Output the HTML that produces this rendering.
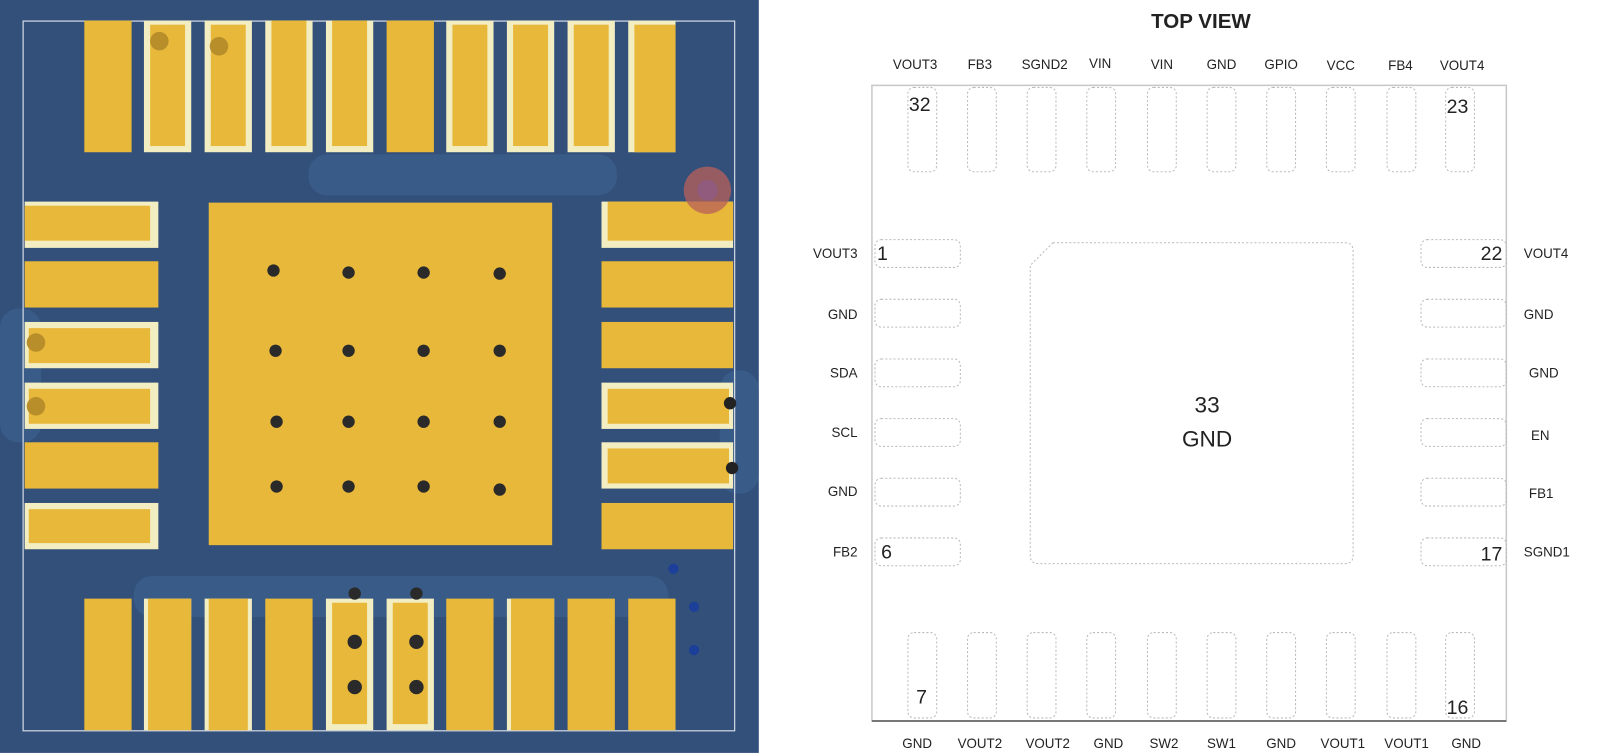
<!DOCTYPE html>
<html><head><meta charset="utf-8"><style>
html,body{margin:0;padding:0;background:#fff;}
svg{display:block;}
text{font-family:"Liberation Sans",Arial,sans-serif;fill:#222;}
</style></head><body>
<svg width="1604" height="756" viewBox="0 0 1560 735" preserveAspectRatio="none" xmlns="http://www.w3.org/2000/svg">
<!-- PCB -->
<rect x="0" y="0" width="738" height="732" fill="#33507a"/>
<g fill="#3e6494" opacity="0.55">
<rect x="300" y="150" width="300" height="40" rx="18"/>
<rect x="130" y="560" width="520" height="40" rx="18"/>
<rect x="0" y="300" width="40" height="130" rx="18"/>
<rect x="700" y="360" width="38" height="120" rx="18"/>
</g>
<rect x="22.5" y="20.5" width="692" height="690" fill="none" stroke="#d0d8e4" stroke-width="1.2"/>
<g fill="#e8b83a">
<rect x="203" y="197" width="334" height="333"/>
</g>
<!-- top pads -->
<g id="tp">
<rect x="82" y="20" width="46" height="128" fill="#e8b83a"/>
<rect x="140" y="20" width="46" height="128" fill="#f3edc2"/><rect x="146" y="24" width="34" height="118" fill="#e8b83a"/>
<rect x="199" y="20" width="46" height="128" fill="#f3edc2"/><rect x="205" y="24" width="34" height="118" fill="#e8b83a"/>
<rect x="258" y="20" width="46" height="128" fill="#f3edc2"/><rect x="264" y="20" width="34" height="122" fill="#e8b83a"/>
<rect x="317" y="20" width="46" height="128" fill="#f3edc2"/><rect x="323" y="20" width="34" height="122" fill="#e8b83a"/>
<rect x="376" y="20" width="46" height="128" fill="#e8b83a"/>
<rect x="434" y="20" width="46" height="128" fill="#f3edc2"/><rect x="440" y="24" width="34" height="118" fill="#e8b83a"/>
<rect x="493" y="20" width="46" height="128" fill="#f3edc2"/><rect x="499" y="24" width="34" height="118" fill="#e8b83a"/>
<rect x="552" y="20" width="46" height="128" fill="#f3edc2"/><rect x="558" y="24" width="34" height="118" fill="#e8b83a"/>
<rect x="611" y="20" width="46" height="128" fill="#f3edc2"/><rect x="617" y="24" width="40" height="124" fill="#e8b83a"/>
</g>
<circle cx="155" cy="40" r="9" fill="#b88e2a"/><circle cx="213" cy="45" r="9" fill="#b88e2a"/>
<!-- bottom pads -->
<g>
<rect x="82" y="582" width="46" height="128" fill="#e8b83a"/>
<rect x="140" y="582" width="46" height="128" fill="#f3edc2"/><rect x="144" y="582" width="42" height="128" fill="#e8b83a"/>
<rect x="199" y="582" width="46" height="128" fill="#f3edc2"/><rect x="203" y="582" width="38" height="128" fill="#e8b83a"/>
<rect x="258" y="582" width="46" height="128" fill="#e8b83a"/>
<rect x="317" y="582" width="46" height="128" fill="#f3edc2"/><rect x="323" y="586" width="34" height="118" fill="#e8b83a"/>
<rect x="376" y="582" width="46" height="128" fill="#f3edc2"/><rect x="382" y="586" width="34" height="118" fill="#e8b83a"/>
<rect x="434" y="582" width="46" height="128" fill="#e8b83a"/>
<rect x="493" y="582" width="46" height="128" fill="#f3edc2"/><rect x="497" y="582" width="42" height="128" fill="#e8b83a"/>
<rect x="552" y="582" width="46" height="128" fill="#e8b83a"/>
<rect x="611" y="582" width="46" height="128" fill="#e8b83a"/>
</g>
<g fill="#2a2a2a"><circle cx="345" cy="577" r="6"/><circle cx="405" cy="577" r="6"/><circle cx="345" cy="624" r="7"/><circle cx="405" cy="624" r="7"/><circle cx="345" cy="668" r="7"/><circle cx="405" cy="668" r="7"/></g>
<g fill="#1c3f9a"><circle cx="655" cy="553" r="5"/><circle cx="675" cy="590" r="5"/><circle cx="675" cy="632" r="5"/></g>
<!-- left pads -->
<g>
<rect x="24" y="196" width="130" height="45" fill="#f3edc2"/><rect x="24" y="200" width="122" height="34" fill="#e8b83a"/>
<rect x="24" y="254" width="130" height="45" fill="#e8b83a"/>
<rect x="24" y="313" width="130" height="45" fill="#f3edc2"/><rect x="28" y="319" width="118" height="34" fill="#e8b83a"/>
<rect x="24" y="372" width="130" height="45" fill="#f3edc2"/><rect x="28" y="378" width="118" height="34" fill="#e8b83a"/>
<rect x="24" y="430" width="130" height="45" fill="#e8b83a"/>
<rect x="24" y="489" width="130" height="45" fill="#f3edc2"/><rect x="28" y="495" width="118" height="33" fill="#e8b83a"/>
</g>
<circle cx="35" cy="333" r="9" fill="#b88e2a"/><circle cx="35" cy="395" r="9" fill="#b88e2a"/>
<!-- right pads -->
<g>
<rect x="585" y="196" width="128" height="45" fill="#f3edc2"/><rect x="591" y="196" width="122" height="38" fill="#e8b83a"/>
<rect x="585" y="254" width="128" height="45" fill="#e8b83a"/>
<rect x="585" y="313" width="128" height="45" fill="#e8b83a"/>
<rect x="585" y="372" width="128" height="45" fill="#f3edc2"/><rect x="591" y="378" width="118" height="34" fill="#e8b83a"/>
<rect x="585" y="430" width="128" height="45" fill="#f3edc2"/><rect x="591" y="436" width="118" height="34" fill="#e8b83a"/>
<rect x="585" y="489" width="128" height="45" fill="#e8b83a"/>
</g>
<circle cx="710" cy="392" r="6" fill="#222"/><circle cx="712" cy="455" r="6" fill="#222"/>
<circle cx="688" cy="185" r="23" fill="#b8605a" opacity="0.75"/>
<circle cx="688" cy="185" r="10" fill="#8a5a9a" opacity="0.5"/>
<!-- vias -->
<g fill="#2a2a2a">
<circle cx="266" cy="263" r="6"/><circle cx="339" cy="265" r="6"/><circle cx="412" cy="265" r="6"/><circle cx="486" cy="266" r="6"/>
<circle cx="268" cy="341" r="6"/><circle cx="339" cy="341" r="6"/><circle cx="412" cy="341" r="6"/><circle cx="486" cy="341" r="6"/>
<circle cx="269" cy="410" r="6"/><circle cx="339" cy="410" r="6"/><circle cx="412" cy="410" r="6"/><circle cx="486" cy="410" r="6"/>
<circle cx="269" cy="473" r="6"/><circle cx="339" cy="473" r="6"/><circle cx="412" cy="473" r="6"/><circle cx="486" cy="476" r="6"/>
</g>

<!-- Diagram -->
<text x="1168" y="27" font-size="20" font-weight="bold" text-anchor="middle">TOP VIEW</text>
<rect x="848" y="83" width="617" height="618" fill="none" stroke="#c8c8c8" stroke-width="1.5"/>
<line x1="848" y1="701" x2="1465" y2="701" stroke="#777" stroke-width="2"/>
<g font-size="13" text-anchor="middle">
<text x="890" y="67">VOUT3</text><text x="953" y="67">FB3</text><text x="1016" y="67">SGND2</text><text x="1070" y="66">VIN</text><text x="1130" y="67">VIN</text><text x="1188" y="67">GND</text><text x="1246" y="67">GPIO</text><text x="1304" y="68">VCC</text><text x="1362" y="68">FB4</text><text x="1422" y="68">VOUT4</text>
<text x="892" y="727">GND</text><text x="953" y="727">VOUT2</text><text x="1019" y="727">VOUT2</text><text x="1078" y="727">GND</text><text x="1132" y="727">SW2</text><text x="1188" y="727">SW1</text><text x="1246" y="727">GND</text><text x="1306" y="727">VOUT1</text><text x="1368" y="727">VOUT1</text><text x="1426" y="727">GND</text>
</g>
<g font-size="13" text-anchor="end">
<text x="834" y="251">VOUT3</text><text x="834" y="310">GND</text><text x="834" y="367">SDA</text><text x="834" y="425">SCL</text><text x="834" y="482">GND</text><text x="834" y="541">FB2</text>
</g>
<g font-size="13">
<text x="1482" y="251">VOUT4</text><text x="1482" y="310">GND</text><text x="1487" y="367">GND</text><text x="1489" y="428">EN</text><text x="1487" y="484">FB1</text><text x="1482" y="541">SGND1</text>
</g>
<g fill="none" stroke="#bbb" stroke-width="1" stroke-dasharray="2,2">
<rect x="883" y="85" width="28" height="82" rx="6"/><rect x="941" y="85" width="28" height="82" rx="6"/><rect x="999" y="85" width="28" height="82" rx="6"/><rect x="1057" y="85" width="28" height="82" rx="6"/><rect x="1116" y="85" width="28" height="82" rx="6"/><rect x="1174" y="85" width="28" height="82" rx="6"/><rect x="1232" y="85" width="28" height="82" rx="6"/><rect x="1290" y="85" width="28" height="82" rx="6"/><rect x="1349" y="85" width="28" height="82" rx="6"/><rect x="1406" y="85" width="28" height="82" rx="6"/>
<rect x="883" y="615" width="28" height="83" rx="6"/><rect x="941" y="615" width="28" height="83" rx="6"/><rect x="999" y="615" width="28" height="83" rx="6"/><rect x="1057" y="615" width="28" height="83" rx="6"/><rect x="1116" y="615" width="28" height="83" rx="6"/><rect x="1174" y="615" width="28" height="83" rx="6"/><rect x="1232" y="615" width="28" height="83" rx="6"/><rect x="1290" y="615" width="28" height="83" rx="6"/><rect x="1349" y="615" width="28" height="83" rx="6"/><rect x="1406" y="615" width="28" height="83" rx="6"/>
<rect x="851" y="233" width="83" height="27" rx="6"/><rect x="851" y="291" width="83" height="27" rx="6"/><rect x="851" y="349" width="83" height="27" rx="6"/><rect x="851" y="407" width="83" height="27" rx="6"/><rect x="851" y="465" width="83" height="27" rx="6"/><rect x="851" y="523" width="83" height="27" rx="6"/>
<rect x="1382" y="233" width="83" height="27" rx="6"/><rect x="1382" y="291" width="83" height="27" rx="6"/><rect x="1382" y="349" width="83" height="27" rx="6"/><rect x="1382" y="407" width="83" height="27" rx="6"/><rect x="1382" y="465" width="83" height="27" rx="6"/><rect x="1382" y="523" width="83" height="27" rx="6"/>
<path d="M1024 236 H1308 Q1316 236 1316 244 V540 Q1316 548 1308 548 H1010 Q1002 548 1002 540 V258 Z"/>
</g>
<g font-size="19">
<text x="884" y="108">32</text><text x="1407" y="110">23</text><text x="853" y="253">1</text><text x="1440" y="253">22</text><text x="857" y="543">6</text><text x="1440" y="545">17</text><text x="891" y="684">7</text><text x="1407" y="694">16</text>
</g>
<g font-size="22" text-anchor="middle"><text x="1174" y="401">33</text><text x="1174" y="434">GND</text></g>
</svg>
</body></html>
